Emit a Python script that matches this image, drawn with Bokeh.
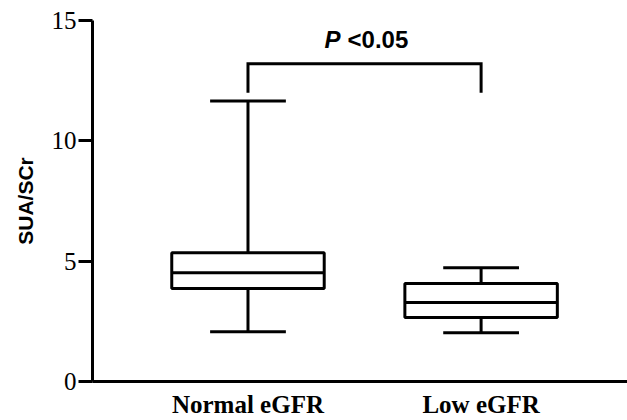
from bokeh.plotting import figure
from bokeh.models import Range1d, FixedTicker
from bokeh.core.properties import value
from bokeh.embed import file_html
from bokeh.resources import INLINE

# ---- data ----
categories = ["Normal eGFR", "Low eGFR"]
whisker_low = [2.07, 2.03]
q1 = [3.86, 2.66]
median = [4.52, 3.28]
q3 = [5.35, 4.07]
whisker_high = [11.66, 4.73]
y_ticks = [0, 5, 10, 15]
p_label = "<0.05"
y_title = "SUA/SCr"

xs = [i + 1 for i in range(len(categories))]

x_start, x_end = 0.333, 2.628
p = figure(width=627, height=420, output_backend="svg", toolbar_location=None,
           x_range=Range1d(x_start, x_end), y_range=Range1d(0, 15),
           min_border_left=92, min_border_top=20, min_border_bottom=38,
           min_border_right=0)
p.outline_line_color = None
p.xgrid.visible = False
p.ygrid.visible = False
p.background_fill_color = "white"

box_w = 0.654
cap_w = 0.325
lw = 3

# whiskers
p.segment(x0=xs, y0=q3, x1=xs, y1=whisker_high, line_color="black", line_width=lw)
p.segment(x0=xs, y0=whisker_low, x1=xs, y1=q1, line_color="black", line_width=lw)
# caps
p.segment(x0=[x - cap_w / 2 for x in xs], y0=whisker_high,
          x1=[x + cap_w / 2 for x in xs], y1=whisker_high, line_color="black", line_width=lw)
p.segment(x0=[x - cap_w / 2 for x in xs], y0=whisker_low,
          x1=[x + cap_w / 2 for x in xs], y1=whisker_low, line_color="black", line_width=lw)
# boxes
p.vbar(x=xs, bottom=q1, top=q3, width=box_w, fill_color="white",
       line_color="black", line_width=lw)
# medians
p.segment(x0=[x - box_w / 2 for x in xs], y0=median,
          x1=[x + box_w / 2 for x in xs], y1=median, line_color="black", line_width=lw)

# significance bracket
br_top = 13.2
br_bot = 12.0
p.line(x=[xs[0], xs[0], xs[1], xs[1]], y=[br_bot, br_top, br_top, br_bot],
       line_color="black", line_width=lw, line_join="miter")
mid = (xs[0] + xs[1]) / 2
p.text(x=[mid], y=[14.2], text=["P"], text_font=value("Liberation Sans"),
       text_font_style="bold italic", text_font_size="24px", text_align="right",
       text_baseline="alphabetic", x_offset=-24, text_color="black")
p.text(x=[mid], y=[14.2], text=[p_label], text_font=value("Liberation Sans"),
       text_font_style="bold", text_font_size="24px", text_align="left",
       text_baseline="alphabetic", x_offset=-17, text_color="black")

# axes styling
for ax in (p.xaxis[0], p.yaxis[0]):
    ax.axis_line_width = lw
    ax.axis_line_color = "black"
    ax.major_tick_line_width = lw
    ax.major_tick_line_color = "black"
    ax.minor_tick_line_color = None
    ax.major_tick_in = 0

p.yaxis.ticker = FixedTicker(ticks=y_ticks)
p.yaxis.major_tick_out = 14
p.yaxis.major_label_text_font = "Liberation Serif"
p.yaxis.major_label_text_font_style = "normal"
p.yaxis.major_label_text_font_size = "25px"
p.yaxis.major_label_text_color = "black"
p.yaxis.major_label_standoff = 2
p.yaxis.axis_label = y_title
p.yaxis.axis_label_text_font = "Liberation Sans"
p.yaxis.axis_label_text_font_style = "bold"
p.yaxis.axis_label_text_font_size = "21px"
p.yaxis.axis_label_text_color = "black"
p.yaxis.axis_label_standoff = 12

p.xaxis.ticker = FixedTicker(ticks=xs)
p.xaxis.major_label_overrides = {x: c for x, c in zip(xs, categories)}
p.xaxis.major_tick_line_color = None
p.xaxis.major_tick_out = 0
p.xaxis.major_label_text_font = "Liberation Serif"
p.xaxis.major_label_text_font_style = "bold"
p.xaxis.major_label_text_font_size = "25px"
p.xaxis.major_label_text_color = "black"
p.xaxis.major_label_standoff = 9

open("out.html", "w").write(file_html(p, INLINE))
